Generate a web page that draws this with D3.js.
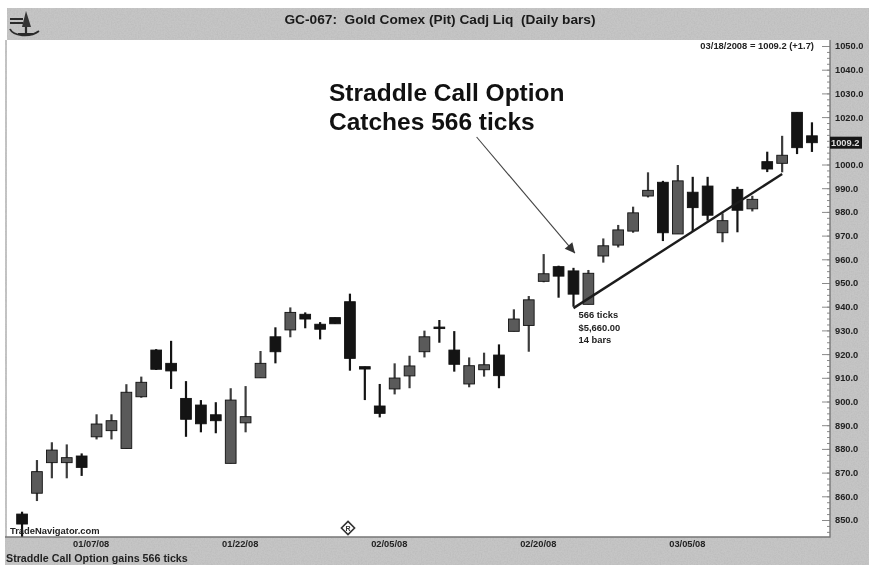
<!DOCTYPE html>
<html>
  <head>
    <style>
      body {
        margin: 0;
        background: #fff;
        font-family: "Liberation Sans", sans-serif;
      }
      svg { display: block; filter: blur(0.5px); }
      .panel { fill: #c6c6c6; }
      .wick { stroke-width: 2.2px; }
      .axis path { display: none; }
      .axis line { stroke: #8a8a8a; }
      .axis text { fill: #222; font-size: 9.3px; font-weight: bold; font-family: "Liberation Sans", sans-serif; }
      .small { fill: #222; font-size: 9.4px; font-weight: bold; }
    </style>
  </head>
  <body>
    <script src="https://d3js.org/d3.v7.min.js"></script>
    <script>
      // trading days, 12/31/07 to 03/18/08
      var dates = ["12/31/07","01/02/08","01/03/08","01/04/08","01/07/08","01/08/08","01/09/08","01/10/08","01/11/08","01/14/08",
        "01/15/08","01/16/08","01/17/08","01/18/08","01/22/08","01/23/08","01/24/08","01/25/08","01/28/08","01/29/08",
        "01/30/08","01/31/08","02/01/08","02/04/08","02/05/08","02/06/08","02/07/08","02/08/08","02/11/08","02/12/08",
        "02/13/08","02/14/08","02/15/08","02/19/08","02/20/08","02/21/08","02/22/08","02/25/08","02/26/08","02/27/08",
        "02/28/08","02/29/08","03/03/08","03/04/08","03/05/08","03/06/08","03/07/08","03/10/08","03/11/08","03/12/08",
        "03/13/08","03/14/08","03/17/08","03/18/08"];
      var opens = [852.5,861.3,874.2,874.2,877,885.1,887.7,880.2,902,921.7,
        916.1,901.3,898.5,894.4,873.9,891,910,927.3,930.2,936.8,
        932.6,935.4,942.1,914.7,898.1,905.3,910.8,921,931.4,921.7,
        907.4,913.4,919.6,929.6,932.1,950.7,956.9,955.1,941,961.4,
        966,971.9,986.7,992.5,970.7,988.3,990.9,971.2,989.5,981.3,
        1001.2,1000.5,1022,1012.1];
      var closes = [848.3,870.4,879.5,876.3,872.2,890.5,891.9,903.9,908.1,913.6,
        912.9,892.5,890.6,891.9,900.6,893.6,916.1,921,937.6,934.8,
        930.5,932.8,918.2,913.7,895,909.9,915,927.3,930.9,915.7,
        915.1,915.5,910.9,934.8,942.9,953.9,952.9,945.3,954.1,965.7,
        972.4,979.6,989.1,971.2,993.1,981.8,978.6,976.3,980.7,985.3,
        998.1,1003.9,1007.1,1009.2];
      var highs = [853.5,875.3,882.8,881.9,878.1,894.6,894.6,907.3,910.5,922.1,
        925.6,908.6,900.6,899.7,905.6,906.5,921.3,931.3,939.7,937.6,
        933.5,935.4,945.5,914.7,907.4,916.1,919.3,929.9,934.4,929.7,
        918.6,920.6,924.1,938.9,944.5,962.2,957.3,956.4,955.5,968.8,
        974.5,982.2,996.7,993.1,999.8,994.8,994.8,979.4,990.6,986.8,
        1005.4,1012.1,1022,1017.8];
      var lows = [843,858,867.6,867.6,868.6,884,884,880.2,901.6,913.3,
        905.3,885.1,887,886.6,873.9,887,910,916.1,927.1,930.9,
        926.2,932.8,913,900.6,893.3,903,905.6,918.6,924.8,912.6,
        906,910.5,905.6,929.6,921,950.3,943.8,940,941,958.6,
        965,971.2,986.1,967.7,970.7,971.6,976.3,967.2,971.4,980.2,
        996.8,996.7,1004.4,1005.3];

      var dateTicks = ["01/07/08","01/22/08","02/05/08","02/20/08","03/05/08"];
      var priceTicks = d3.range(850, 1051, 10).filter(d => d !== 1010);
      var minorTicks = d3.range(845, 1052, 2.5);

      // 566 tick move, bar 37 to bar 51
      var trendDates = ["02/25/08","03/14/08"];
      var trendPrices = [939.4, 996];
      // arrow tail / head as bar index, price
      var arrowBars = [30.5, 37.1];
      var arrowPrices = [1011.6, 962.6];

      var width = 869, height = 565;
      var plot = {left: 7, right: 830, top: 40, bottom: 537};

      var svg = d3.select("body").append("svg")
        .attr("width", width)
        .attr("height", height);

      var defs = svg.append("defs");
      var noise = defs.append("filter").attr("id", "grain")
        .attr("x", 0).attr("y", 0).attr("width", "100%").attr("height", "100%");
      noise.append("feTurbulence").attr("type", "fractalNoise").attr("baseFrequency", 0.7).attr("numOctaves", 2).attr("seed", 4).attr("result", "n");
      noise.append("feColorMatrix").attr("in", "n").attr("type", "matrix")
        .attr("values", "0 0 0 0 0.45  0 0 0 0 0.45  0 0 0 0 0.45  0 0 0 0.9 -0.28").attr("result", "m");
      noise.append("feComposite").attr("in", "m").attr("in2", "SourceGraphic").attr("operator", "in").attr("result", "c");
      noise.append("feMerge").selectAll("feMergeNode").data(["SourceGraphic", "c"]).enter()
        .append("feMergeNode").attr("in", d => d);

      // grey frame
      var panels = svg.append("g").attr("filter", "url(#grain)");
      panels.append("rect").attr("class", "panel").attr("x", 7).attr("y", 8).attr("width", width - 7).attr("height", plot.top - 8);
      panels.append("rect").attr("class", "panel").attr("x", plot.right).attr("y", plot.top).attr("width", width - plot.right).attr("height", plot.bottom - plot.top);
      panels.append("rect").attr("class", "panel").attr("x", 5).attr("y", plot.bottom).attr("width", width - 5).attr("height", height - plot.bottom);
      panels.append("rect").attr("class", "panel").attr("x", 5).attr("y", plot.top).attr("width", 2).attr("height", plot.bottom - plot.top);

      var xScale = d3.scaleBand()
        .domain(dates)
        .range([14.6, 819.4])
        .paddingInner(0.28)
        .paddingOuter(0.14);

      var yScale = d3.scaleLinear()
        .domain([850, 1050])
        .range([520, 46]);

      var barX = d => xScale(d) + xScale.bandwidth() / 2;
      var byIndex = d3.scaleLinear()
        .domain([0, dates.length - 1])
        .range([barX(dates[0]), barX(dates[dates.length - 1])]);

      // y axis, right hand panel
      svg.append("g").attr("class", "axis")
        .attr("transform", "translate(" + plot.right + ",0)")
        .call(d3.axisRight(yScale).tickValues(minorTicks).tickSize(-3).tickFormat(""));
      var yAxis = svg.append("g").attr("class", "axis")
        .attr("transform", "translate(" + plot.right + ",0)")
        .call(d3.axisRight(yScale).tickValues(priceTicks).tickSize(-8).tickFormat(d3.format(".1f")));
      yAxis.selectAll("text").attr("x", 5).attr("text-anchor", "start");

      // date labels sit to the right of their bar
      var xAxis = svg.append("g").attr("class", "axis")
        .attr("transform", "translate(0," + plot.bottom + ")")
        .call(d3.axisBottom(xScale).tickValues(dateTicks).tickSize(0));
      xAxis.selectAll("text").attr("dx", 9.5).attr("y", 3);

      svg.append("path")
        .attr("d", "M5," + plot.bottom + "H" + plot.right + "V" + plot.top)
        .attr("fill", "none").attr("stroke", "#777").attr("stroke-width", 1.4);

      // candles
      var barFill = i => closes[i] >= opens[i] ? "#5a5a5a" : "#141414";
      var candle = svg.append("g").selectAll("g").data(dates).enter().append("g");
      candle.append("line")
        .attr("class", "wick")
        .attr("x1", d => barX(d)).attr("x2", d => barX(d))
        .attr("y1", (d, i) => yScale(highs[i]))
        .attr("y2", (d, i) => Math.min(yScale(lows[i]), plot.bottom))
        .attr("stroke", (d, i) => closes[i] >= opens[i] ? "#3c3c3c" : "#141414");
      candle.append("rect")
        .attr("x", d => xScale(d))
        .attr("width", xScale.bandwidth())
        .attr("y", (d, i) => yScale(Math.max(opens[i], closes[i])))
        .attr("height", (d, i) => Math.max(1.5, Math.abs(yScale(opens[i]) - yScale(closes[i]))))
        .attr("fill", (d, i) => barFill(i))
        .attr("stroke", "#111")
        .attr("stroke-width", 0.9);

      // trend line
      svg.append("line")
        .attr("x1", barX(trendDates[0])).attr("y1", yScale(trendPrices[0]))
        .attr("x2", barX(trendDates[1])).attr("y2", yScale(trendPrices[1]))
        .attr("stroke", "#1c1c1c").attr("stroke-width", 2.4);
      ["566 ticks", "$5,660.00", "14 bars"].forEach(function(t, i) {
        svg.append("text").attr("class", "small")
          .attr("x", barX(trendDates[0]) + 5)
          .attr("y", yScale(trendPrices[0]) + 10 + i * 12.5)
          .text(t);
      });

      // callout
      defs.append("marker").attr("id", "head")
        .attr("viewBox", "0 0 10 10").attr("refX", 10).attr("refY", 5)
        .attr("markerWidth", 12).attr("markerHeight", 10).attr("markerUnits", "userSpaceOnUse")
        .attr("orient", "auto")
        .append("path").attr("d", "M0,0L10,5L0,10z").attr("fill", "#333");
      svg.append("line")
        .attr("x1", byIndex(arrowBars[0])).attr("y1", yScale(arrowPrices[0]))
        .attr("x2", byIndex(arrowBars[1])).attr("y2", yScale(arrowPrices[1]))
        .attr("stroke", "#444").attr("stroke-width", 1.1)
        .attr("marker-end", "url(#head)");
      ["Straddle Call Option", "Catches 566 ticks"].forEach(function(t, i) {
        svg.append("text")
          .attr("x", 329).attr("y", 100.5 + i * 29)
          .attr("font-size", 24.5).attr("font-weight", "bold").attr("fill", "#111")
          .text(t);
      });

      // last price tag
      var lastClose = closes[closes.length - 1];
      svg.append("rect")
        .attr("x", plot.right).attr("y", yScale(lastClose) - 6)
        .attr("width", 32).attr("height", 12).attr("fill", "#161616");
      svg.append("text")
        .attr("x", plot.right + 1).attr("y", yScale(lastClose) + 3)
        .attr("font-size", 9.3).attr("font-weight", "bold").attr("fill", "#ddd")
        .text(lastClose.toFixed(1));

      // texts
      svg.append("text")
        .attr("x", 440).attr("y", 23.5).attr("text-anchor", "middle")
        .attr("font-size", 13.7).attr("font-weight", "bold").attr("fill", "#1a1a1a")
        .style("white-space", "pre")
        .text("GC-067:  Gold Comex (Pit) Cadj Liq  (Daily bars)");
      svg.append("text").attr("class", "small")
        .attr("x", 814).attr("y", 49).attr("text-anchor", "end")
        .text("03/18/2008 = 1009.2 (+1.7)");
      svg.append("text").attr("class", "small").attr("font-weight", "normal")
        .attr("x", 10).attr("y", 534)
        .text("TradeNavigator.com");
      svg.append("text")
        .attr("x", 6).attr("y", 562)
        .attr("font-size", 10.7).attr("font-weight", "bold").attr("fill", "#222")
        .text("Straddle Call Option gains 566 ticks");

      // diamond marker
      var diamond = svg.append("g").attr("transform", "translate(348,528)");
      diamond.append("path").attr("d", d3.symbol(d3.symbolDiamond2, 110)())
        .attr("fill", "none").attr("stroke", "#333").attr("stroke-width", 1.6);
      diamond.append("text").attr("text-anchor", "middle").attr("y", 3)
        .attr("font-size", 7).attr("font-weight", "bold").attr("fill", "#333").text("R");

      // logo
      var logo = svg.append("g").attr("fill", "none").attr("stroke", "#2a2a2a").attr("stroke-width", 1.8);
      logo.append("path").attr("d", "M10,19L23,19M10,23L23,23");
      logo.append("path").attr("d", "M26,11L22,27L31,27z").attr("fill", "#333").attr("stroke", "none");
      logo.append("path").attr("d", "M26,27L26,36").attr("stroke-width", 2.2);
      logo.append("path").attr("d", "M10,29C13,36 30,38 39,31M18,34L33,34");
    </script>
  </body>
</html>
